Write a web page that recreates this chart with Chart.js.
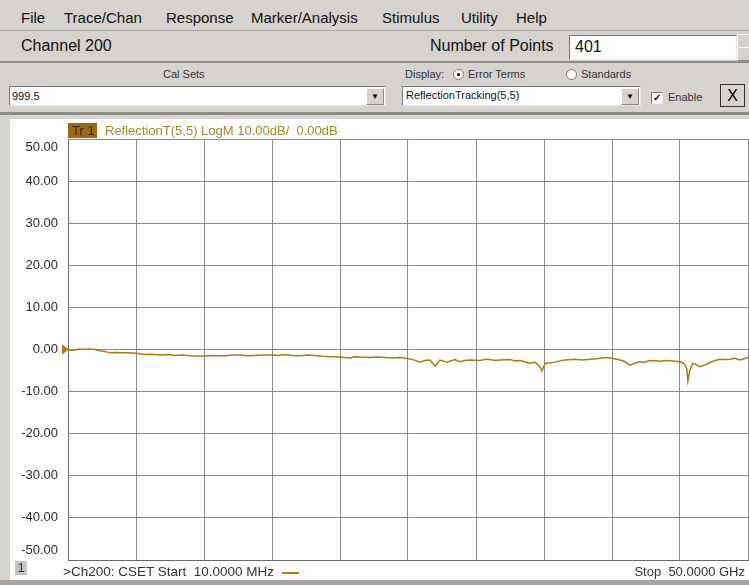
<!DOCTYPE html>
<html>
<head>
<meta charset="utf-8">
<script src="https://cdn.jsdelivr.net/npm/chart.js@4"></script>
<style>
  body { margin: 0; width: 749px; height: 585px; overflow: hidden; background: #d6d3ce;
         font-family: "Liberation Sans", Arial, sans-serif; position: relative; }
  .abs { position: absolute; white-space: nowrap; }
  .menu span { position: absolute; top: 9px; font-size: 15px; color: #111; }
  .box { position: absolute; background: #fff; border: 1px solid #7a7a7a; border-right-color: #e8e8e8; border-bottom-color: #e8e8e8; }
  .btn { position: absolute; background: #d6d3ce; border: 1px solid #888; border-top-color: #fff; border-left-color: #fff; }
</style>
</head>
<body>
<div class="menu">
  <span style="left:21px">File</span>
  <span style="left:64px">Trace/Chan</span>
  <span style="left:166px">Response</span>
  <span style="left:251px">Marker/Analysis</span>
  <span style="left:382px">Stimulus</span>
  <span style="left:461px">Utility</span>
  <span style="left:516px">Help</span>
</div>
<div class="abs" style="left:0;top:30px;width:749px;height:1px;background:#a9a6a0"></div>
<div class="abs" style="left:0;top:61px;width:749px;height:2px;background:#8e8b86"></div>
<div class="abs" style="left:21px;top:37px;font-size:16px;color:#111">Channel 200</div>
<div class="abs" style="left:430px;top:37px;font-size:16px;color:#111">Number of Points</div>
<div class="box" style="left:569px;top:35px;width:166px;height:23px"></div>
<div class="abs" style="left:575px;top:38px;font-size:16px;color:#111">401</div>
<div class="btn" style="left:737px;top:34px;width:12px;height:12px"></div>
<div class="btn" style="left:737px;top:47px;width:12px;height:12px"></div>

<div class="abs" style="left:163px;top:68px;font-size:11px;color:#333">Cal Sets</div>
<div class="box" style="left:9px;top:86px;width:375px;height:18px"></div>
<div class="abs" style="left:12px;top:90px;font-size:11px;color:#111">999.5</div>
<div class="btn" style="left:366px;top:88px;width:16px;height:15px;font-size:8px;text-align:center;line-height:15px">&#9660;</div>

<div class="abs" style="left:405px;top:68px;font-size:11px;color:#333">Display:</div>
<div class="abs" style="left:453px;top:69px;width:9px;height:9px;border-radius:50%;background:#fff;border:1px solid #777"></div>
<div class="abs" style="left:457px;top:73px;width:3px;height:3px;border-radius:50%;background:#000"></div>
<div class="abs" style="left:468px;top:68px;font-size:11px;color:#333">Error Terms</div>
<div class="abs" style="left:566px;top:69px;width:9px;height:9px;border-radius:50%;background:#fff;border:1px solid #777"></div>
<div class="abs" style="left:581px;top:68px;font-size:11px;color:#333">Standards</div>
<div class="box" style="left:402px;top:86px;width:237px;height:18px"></div>
<div class="abs" style="left:406px;top:89px;font-size:11px;color:#111">ReflectionTracking(5,5)</div>
<div class="btn" style="left:621px;top:88px;width:16px;height:15px;font-size:8px;text-align:center;line-height:15px">&#9660;</div>
<div class="box" style="left:651px;top:92px;width:10px;height:10px;font-size:10px;line-height:10px;text-align:center;font-weight:bold">&#10003;</div>
<div class="abs" style="left:668px;top:91px;font-size:11px;color:#333">Enable</div>
<div class="btn" style="left:720px;top:84px;width:23px;height:21px;font-size:16px;text-align:center;line-height:21px;border-color:#333">X</div>

<div class="abs" style="left:0;top:112px;width:749px;height:3px;background:#8e8b86"></div>
<div class="abs" style="left:10px;top:119px;width:739px;height:461px;background:#fff"></div>
<canvas id="grafico" width="739" height="461" class="abs" style="left:10px;top:119px"></canvas>
<div class="abs" style="left:0;top:580px;width:749px;height:5px;background:#a9a6a0"></div>

<div class="abs" style="left:15px;top:561px;width:12px;height:14px;background:#c4c4c4;font-size:13px;text-align:center;line-height:14px;color:#333">1</div>
<div class="abs" style="left:63px;top:564px;font-size:13.5px;color:#333">&gt;Ch200: CSET Start&nbsp; 10.0000 MHz</div>
<div class="abs" style="left:282px;top:572px;width:17px;height:2px;background:#a57d14"></div>
<div class="abs" style="right:4px;top:564px;font-size:13px;color:#333">Stop&nbsp; 50.0000 GHz</div>

<script>
// trace (GHz / dB)
const freqGHz = [0.01, 0.3, 0.52, 0.8, 1.26, 1.6, 1.99, 2.36, 2.7, 3.1, 3.5, 3.83, 4.4, 5.01, 5.67, 6.2, 6.77, 7.3,
  7.88, 8.4, 8.98, 9.71, 10.45, 11.0, 11.55, 12.1, 12.65, 13.2, 13.76, 14.4, 15.01, 15.5, 15.96, 16.5, 17.07,
  17.6, 18.17, 18.7, 19.27, 20.0, 20.74, 21.1, 21.47, 22.21, 22.8, 23.31, 23.9, 24.41, 24.85, 25.37, 25.88,
  26.25, 26.62, 26.99, 27.35, 27.87, 28.46, 28.82, 29.2, 29.56, 30.29, 30.7, 31.03, 31.4, 31.76, 32.5, 32.9,
  33.23, 33.6, 33.97, 34.34, 34.7, 34.85, 35.07, 35.4, 35.8, 36.2, 36.54, 37.28, 37.8, 38.38, 38.9, 39.48,
  40.0, 40.59, 40.9, 41.32, 41.69, 42.05, 42.4, 42.79, 43.2, 43.52, 43.9, 44.26, 44.6, 44.99, 45.28, 45.5,
  45.58, 45.72, 45.94, 46.2, 46.46, 46.83, 47.34, 47.6, 47.93, 48.3, 48.67, 49.03, 49.4, 49.7, 50.0];
const magDB = [0.0, -0.2, -0.1, 0.1, 0.0, 0.1, 0.0, -0.3, -0.5, -0.8, -0.7, -0.8, -0.8, -0.9, -1.2, -1.1, -1.3, -1.2,
  -1.4, -1.3, -1.5, -1.6, -1.4, -1.5, -1.5, -1.3, -1.3, -1.5, -1.4, -1.3, -1.3, -1.4, -1.2, -1.4, -1.5,
  -1.3, -1.4, -1.6, -1.7, -1.8, -2.0, -1.7, -1.8, -1.9, -1.8, -1.9, -2.0, -1.9, -2.1, -2.4, -3.0,
  -2.6, -2.5, -4.0, -2.5, -3.0, -2.4, -2.9, -2.6, -2.5, -2.6, -2.3, -2.4, -2.6, -2.5, -2.4, -2.7,
  -2.6, -2.9, -3.3, -3.0, -4.1, -5.1, -3.3, -3.2, -3.0, -2.7, -2.5, -2.3, -2.5, -2.3, -2.2, -1.9,
  -2.1, -2.5, -2.8, -3.7, -3.2, -2.9, -3.0, -2.6, -2.7, -2.8, -2.6, -2.7, -2.8, -2.9, -3.3, -4.5,
  -7.5, -5.0, -3.3, -3.6, -4.1, -3.7, -2.9, -2.6, -2.3, -2.4, -2.3, -2.1, -2.5, -2.2, -1.8];
const yTicks = [50, 40, 30, 20, 10, 0, -10, -20, -30, -40, -50];
const xTicksGHz = [0.01, 5.009, 10.008, 15.007, 20.006, 25.005, 30.004, 35.003, 40.002, 45.001, 50.0];
const refLevel = 0;
const traceLabel = 'ReflectionT(5,5) LogM 10.00dB/  0.00dB';

const traceColor = '#a57d14';

// draws the y labels (kept inside the grid at top/bottom), the Tr 1 tag and the ref marker
const cabecalho = {
  id: 'cabecalho',
  afterDraw(chart) {
    const c = chart.ctx, a = chart.chartArea, ys = chart.scales.y;
    c.save();
    c.font = '13px "Liberation Sans", Arial';
    c.textBaseline = 'middle';
    c.textAlign = 'right';
    c.fillStyle = '#2a2a2a';
    ys.ticks.forEach(t => {
      let py = ys.getPixelForValue(t.value);
      py = Math.min(Math.max(py, a.top + 8), a.bottom - 10);
      c.fillText(t.value.toFixed(2), a.left - 10, py);
    });
    c.textAlign = 'left';
    c.fillStyle = '#9c6b08';
    c.fillRect(a.left, a.top - 16, 29, 15);
    c.fillStyle = '#2b1d00';
    c.fillText('Tr 1', a.left + 4, a.top - 8);
    c.fillStyle = '#a8862c';
    c.fillText(traceLabel, a.left + 37, a.top - 8);
    const y0 = ys.getPixelForValue(refLevel);
    c.fillStyle = traceColor;
    c.beginPath();
    c.moveTo(a.left - 6, y0 - 5);
    c.lineTo(a.left + 1, y0);
    c.lineTo(a.left - 6, y0 + 5);
    c.closePath();
    c.fill();
    c.restore();
  }
};

new Chart(document.getElementById('grafico').getContext('2d'), {
  type: 'line',
  data: {
    datasets: [{
      data: freqGHz.map((f, i) => ({ x: f, y: magDB[i] })),
      borderColor: traceColor,
      borderWidth: 1.5,
      pointRadius: 0,
      tension: 0
    }]
  },
  options: {
    responsive: false,
    animation: false,
    layout: { padding: { top: 20, bottom: 20, right: 1, left: 0 } },
    plugins: { legend: { display: false }, tooltip: { enabled: false } },
    scales: {
      x: {
        type: 'linear', min: 0.01, max: 50,
        afterBuildTicks: s => { s.ticks = xTicksGHz.map(v => ({ value: v })); },
        afterFit: s => { s.height = 0; },
        ticks: { display: false },
        grid: { color: '#8a8a8a', lineWidth: 1, drawTicks: false },
        border: { color: '#6a6a6a' }
      },
      y: {
        min: -50, max: 50,
        afterBuildTicks: s => { s.ticks = yTicks.map(v => ({ value: v })); },
        afterFit: s => { s.width = 58; },
        ticks: { display: false },
        grid: { color: '#8a8a8a', lineWidth: 1, drawTicks: false },
        border: { color: '#6a6a6a' }
      }
    }
  },
  plugins: [cabecalho]
});
</script>
</body>
</html>
